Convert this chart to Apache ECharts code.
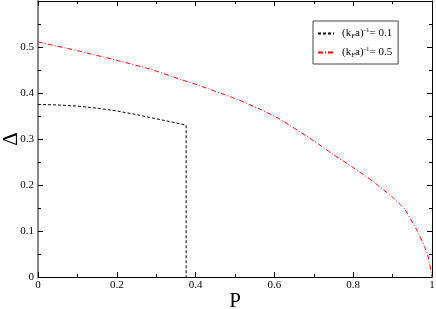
<!DOCTYPE html>
<html>
<head>
<meta charset="utf-8">
<script src="https://cdn.jsdelivr.net/npm/echarts@6/dist/echarts.min.js"></script>
<style>
html, body { margin: 0; padding: 0; background: #fff; }
#chart1 { width: 436px; height: 309px; }
</style>
</head>
<body>
<div id="chart1"></div>
<script>
// (kFa)^-1 = 0.1
var pBlack = [0, 0.05, 0.1, 0.15, 0.2, 0.25, 0.3, 0.35, 0.376, 0.376];
var dBlack = [0.375, 0.374, 0.3715, 0.367, 0.361, 0.353, 0.344, 0.335, 0.330, 0];
// (kFa)^-1 = 0.5
var pRed = [0, 0.1, 0.2, 0.284, 0.36, 0.4, 0.5, 0.563, 0.614, 0.7, 0.75, 0.8, 0.85, 0.9, 0.93, 0.96, 0.98, 0.99, 1.0];
var dRed = [0.511, 0.492, 0.471, 0.452, 0.430, 0.419, 0.388, 0.365, 0.343, 0.296, 0.266, 0.238, 0.208, 0.173, 0.148, 0.104, 0.068, 0.045, 0];
var names = ['k01', 'k05'];
var legendText = {k01: '(k{sub|F}a){sup|-1}= 0.1', k05: '(k{sub|F}a){sup|-1}= 0.5'};

function pairs(xs, ys) {
    return xs.map(function (x, i) {
        return [x, ys[i]];
    });
}

var font = 'Liberation Serif';
var myChart = echarts.init(document.getElementById('chart1'));
var tickIn = {show: true, inside: true, length: 5, lineStyle: {color: '#000'}};
var minorIn = {show: true, splitNumber: 2, length: 3, lineStyle: {color: '#000'}};
var option = {
    animation: false,
    backgroundColor: '#fff',
    grid: {left: 38, right: 4, top: 1, bottom: 32, outerBoundsMode: 'none', containLabel: false},
    legend: {
        data: names,
        orient: 'vertical',
        left: 313, top: 21,
        padding: [6, 6, 5, 4],
        itemGap: 6,
        itemWidth: 16,
        itemHeight: 10,
        borderColor: '#444',
        borderWidth: 1,
        itemStyle: {opacity: 0},
        formatter: function (n) { return legendText[n]; },
        textStyle: {
            fontFamily: font, fontSize: 11, color: '#000', padding: [0, 0, 0, 3],
            rich: {
                sub: {fontFamily: font, fontSize: 7, verticalAlign: 'bottom', padding: [6, 0, 0, 0]},
                sup: {fontFamily: font, fontSize: 7, verticalAlign: 'top', padding: [0, 0, 6, 0]}
            }
        }
    },
    xAxis: [{
        type: 'value', min: 0, max: 1, interval: 0.2,
        name: 'P', nameLocation: 'middle', nameGap: 14, nameMoveOverlap: false,
        nameTextStyle: {fontFamily: font, fontSize: 21, color: '#000'},
        axisLine: {onZero: false, lineStyle: {color: '#000', width: 1}},
        axisTick: tickIn, minorTick: minorIn,
        axisLabel: {fontFamily: font, fontSize: 11, color: '#000', margin: 3,
            formatter: function (v) { return String(+v.toFixed(1)); }},
        splitLine: {show: false}
    }, {
        type: 'value', min: 0, max: 1, interval: 0.2, position: 'top',
        axisLine: {show: true, onZero: false, lineStyle: {color: '#000', width: 1}},
        axisTick: tickIn, minorTick: minorIn,
        axisLabel: {show: false}, splitLine: {show: false}
    }],
    yAxis: [{
        type: 'value', min: 0, max: 0.6, interval: 0.1,
        name: 'Δ', nameLocation: 'middle', nameGap: 16, nameMoveOverlap: false,
        nameTextStyle: {fontFamily: font, fontSize: 21, color: '#000'},
        axisLine: {show: true, onZero: false, lineStyle: {color: '#888', width: 2}},
        axisTick: tickIn, minorTick: minorIn,
        axisLabel: {fontFamily: font, fontSize: 11, color: '#000', margin: 4,
            formatter: function (v) { return v >= 0.55 ? '' : String(+v.toFixed(1)); }},
        splitLine: {show: false}
    }, {
        type: 'value', min: 0, max: 0.6, interval: 0.1, position: 'right',
        axisLine: {show: true, onZero: false, lineStyle: {color: '#000', width: 1}},
        axisTick: tickIn, minorTick: minorIn,
        axisLabel: {show: false}, splitLine: {show: false}
    }],
    series: [{
        name: 'k01', type: 'line', symbol: 'none',
        data: pairs(pBlack, dBlack),
        lineStyle: {color: '#000', width: 1, type: [3, 2]},
        itemStyle: {color: '#000'}
    }, {
        name: 'k05', type: 'line', symbol: 'none', smooth: 0.2,
        data: pairs(pRed, dRed),
        lineStyle: {color: '#ff0000', width: 1, type: [5, 2, 1, 2]},
        itemStyle: {color: '#ff0000'}
    }, {
        // frame axes on top / right
        name: 'frame', type: 'line', symbol: 'none', silent: true,
        xAxisIndex: 1, yAxisIndex: 1, data: [[0, 0], [1, 0.6]],
        lineStyle: {opacity: 0}
    }]
};
myChart.setOption(option);
</script>
</body>
</html>
